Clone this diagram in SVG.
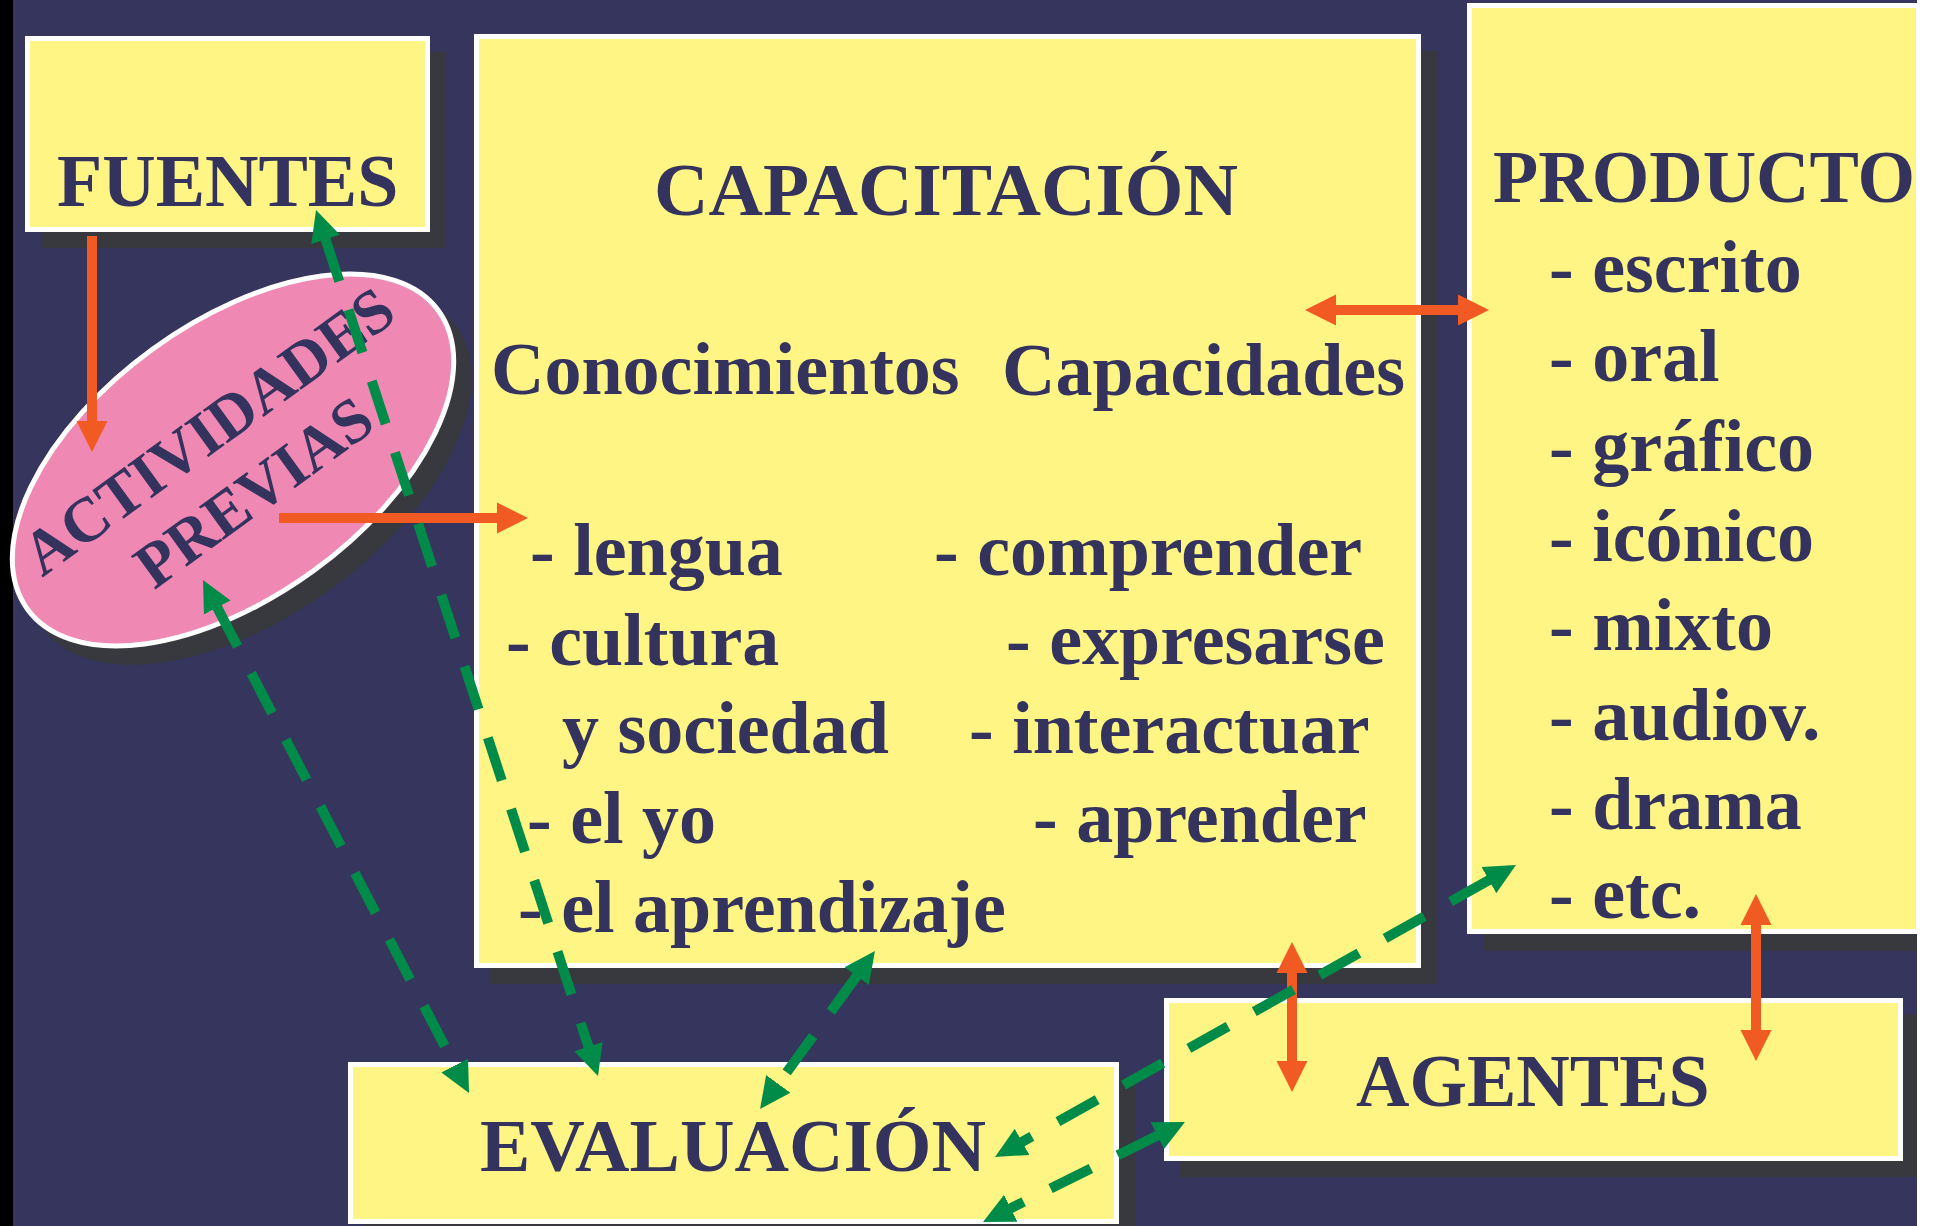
<svg xmlns="http://www.w3.org/2000/svg" width="1936" height="1226" viewBox="0 0 1936 1226">
<style>
.bg{fill:#35355D}
.sh{fill:#38383F}
.box{fill:#FFF585;stroke:#FFFFFF;stroke-width:5}
.t{font-family:"Liberation Serif","Times New Roman",serif;font-weight:bold;font-size:74px;fill:#33335E}
.te{font-family:"Liberation Serif","Times New Roman",serif;font-weight:bold;font-size:63px;fill:#33335E;text-anchor:middle}
.or{fill:none;stroke:#F15A22;stroke-width:10}
.gr{fill:none;stroke:#008C48;stroke-width:10;stroke-dasharray:45 30}
</style>
<defs>
<marker id="ao" markerUnits="userSpaceOnUse" viewBox="0 0 32 32" markerWidth="32" markerHeight="32" refX="1" refY="16" orient="auto-start-reverse">
<path d="M0,0.5 L31,16 L0,31.5 Z" fill="#F15A22"/>
</marker>
<marker id="ag" markerUnits="userSpaceOnUse" viewBox="0 0 32 32" markerWidth="32" markerHeight="32" refX="1" refY="16" orient="auto-start-reverse">
<path d="M0,1 L31,16 L0,31 Z" fill="#008C48"/>
</marker>
</defs>
<rect class="bg" x="0" y="0" width="1936" height="1226"/>
<rect x="0" y="0" width="13" height="1226" fill="#000000"/>

<g id="fuentes">
<rect class="sh" x="41" y="52" width="405" height="196"/>
<rect class="box" x="27.5" y="38.5" width="400" height="191"/>
<text class="t" x="57" y="206">FUENTES</text>
</g>

<g id="capacitacion">
<rect class="sh" x="490" y="51" width="948" height="933"/>
<rect class="box" x="476.5" y="36.5" width="942" height="929"/>
<text class="t" x="654" y="215" textLength="584" lengthAdjust="spacingAndGlyphs">CAPACITACIÓN</text>
<text class="t" x="491" y="394">Conocimientos</text>
<text class="t" x="1002" y="395">Capacidades</text>
<text class="t" x="530" y="575">- lengua</text>
<text class="t" x="506" y="665">- cultura</text>
<text class="t" x="562" y="753">y sociedad</text>
<text class="t" x="527" y="843">- el yo</text>
<text class="t" x="518" y="932">- el aprendizaje</text>
<text class="t" x="934" y="575">- comprender</text>
<text class="t" x="1006" y="664">- expresarse</text>
<text class="t" x="969" y="753">- interactuar</text>
<text class="t" x="1033" y="842">- aprender</text>
</g>

<g id="producto">
<rect class="sh" x="1483" y="20" width="450" height="931"/>
<rect class="box" x="1469.5" y="5.5" width="449" height="926"/>
<text class="t" x="1493" y="202">PRODUCTO</text>
<text class="t" x="1549" y="292">- escrito</text>
<text class="t" x="1549" y="381">- oral</text>
<text class="t" x="1549" y="471">- gráfico</text>
<text class="t" x="1549" y="561">- icónico</text>
<text class="t" x="1549" y="650">- mixto</text>
<text class="t" x="1549" y="740">- audiov.</text>
<text class="t" x="1549" y="829">- drama</text>
<text class="t" x="1549" y="918">- etc.</text>
</g>

<g id="agentes">
<rect class="sh" x="1180" y="1014" width="739" height="163"/>
<rect class="box" x="1166.5" y="1000.5" width="734" height="158"/>
<text class="t" x="1356" y="1106">AGENTES</text>
</g>

<g id="evaluacion">
<rect class="sh" x="364" y="1078" width="771" height="160"/>
<rect class="box" x="350.5" y="1064.5" width="766" height="157"/>
<text class="t" x="480" y="1171" textLength="506" lengthAdjust="spacingAndGlyphs">EVALUACIÓN</text>
</g>

<g id="actividades-previas">
<ellipse class="sh" cx="0" cy="0" rx="256" ry="139" transform="translate(249,477) rotate(-36)"/>
<g transform="translate(233,460) rotate(-36)">
<ellipse cx="0" cy="0" rx="254" ry="137" fill="#F088B4" stroke="#FFFFFF" stroke-width="5"/>
<text class="te" x="-3" y="-17">ACTIVIDADES</text>
<text class="te" x="-2" y="59">PREVIAS</text>
</g>
</g>

<rect x="1917" y="0" width="19" height="1226" fill="#FFFFFF"/>

<g id="connectors">
<path class="or" d="M92,236 L92,422" marker-end="url(#ao)"/>
<path class="or" d="M279,518 L498,518" marker-end="url(#ao)"/>
<path class="or" d="M1335,310 L1459,310" marker-start="url(#ao)" marker-end="url(#ao)"/>
<path class="or" d="M1292,972 L1292,1062" marker-start="url(#ao)" marker-end="url(#ao)"/>
<path class="or" d="M1756,924 L1756,1031" marker-start="url(#ao)" marker-end="url(#ao)"/>
<path class="gr" d="M325.3,238.5 L588.7,1047.5" marker-start="url(#ag)" marker-end="url(#ag)"/>
<path class="gr" d="M216.8,606.6 L455.2,1066.4" marker-start="url(#ag)" marker-end="url(#ag)"/>
<path class="gr" d="M857.3,975.3 L777.7,1084.7" marker-start="url(#ag)" marker-end="url(#ag)"/>
<path class="gr" d="M1489.8,879.7 L1021.2,1142.3" marker-start="url(#ag)" marker-end="url(#ag)"/>
<path class="gr" d="M1158.1,1135.3 L1009.9,1208.7" marker-start="url(#ag)" marker-end="url(#ag)"/>
</g>
</svg>
